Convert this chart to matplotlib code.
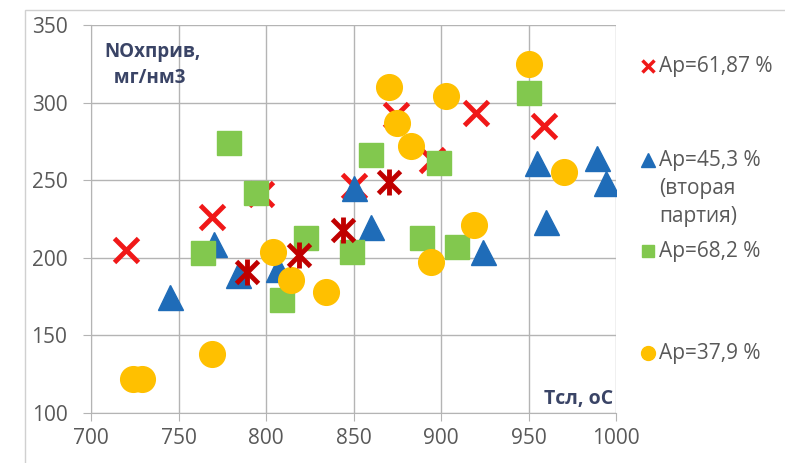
"""
NOx vs bed temperature scatter for four Ap values.
"""

import matplotlib
matplotlib.use('Agg')
from matplotlib import pyplot as plt
from matplotlib.lines import Line2D
from matplotlib.patches import Rectangle

plt.rcParams['font.family'] = ['Open Sans', 'DejaVu Sans']

# Ap=61,87 %
red_x = [720, 769, 797, 850, 874, 895, 920, 959]
red_y = [205, 226, 241, 246, 292, 263, 293, 285]
# same series, overlapped points (drawn as stars)
star_x = [789, 819, 844, 870]
star_y = [191, 202, 218, 249]
# Ap=45,3 % (second batch)
blue_x = [745, 770, 784, 807, 850, 860, 924, 955, 960, 989, 994]
blue_y = [175, 209, 189, 193, 245, 220, 204, 261, 223, 264, 248]
# Ap=68,2 %
green_x = [764, 779, 794, 809, 823, 849, 860, 889, 899, 909, 950]
green_y = [203, 274, 242, 173, 213, 204, 266, 213, 261, 207, 306]
# Ap=37,9 %
yellow_x = [724, 729, 769, 804, 814, 834, 870, 875, 883, 894, 903, 919, 950, 970]
yellow_y = [122, 122, 138, 204, 186, 178, 310, 287, 272, 197, 304, 221, 325, 255]

legend_labels = ['Ар=61,87 %', 'Ар=45,3 %\n(вторая\nпартия)', 'Ар=68,2 %', 'Ар=37,9 %']

RED = '#f01818'
DARKRED = '#c00000'
BLUE = '#1f6cb8'
GREEN = '#82c84e'
YELLOW = '#ffc000'
GRID = '#b4b4b4'
TXT = '#595959'
TITLE = '#3a4466'

fig = plt.figure(figsize=(7.85, 4.63), dpi=100)
fig.add_artist(Rectangle((25 / 785, -0.5), 3, 1 - 10 / 463 + 0.5,
                         transform=fig.transFigure, fill=False,
                         edgecolor='#d0d0d0', linewidth=1))
ax = fig.add_axes([91 / 785, 1 - 413 / 463, (616 - 91) / 785, (413 - 25) / 463])

ax.plot(red_x, red_y, linestyle='none', marker='x', ms=17, mew=3.5, color=RED, zorder=2)
ax.plot(blue_x, blue_y, linestyle='none', marker='^', ms=18, color=BLUE, zorder=3)
ax.plot(green_x, green_y, linestyle='none', marker='s', ms=17, color=GREEN, zorder=4)
ax.plot(yellow_x, yellow_y, linestyle='none', marker='o', ms=18.5, color=YELLOW, zorder=5)
ax.plot(star_x, star_y, linestyle='none', marker='x', ms=16, mew=3.5, color=DARKRED, zorder=6)
ax.plot(star_x, star_y, linestyle='none', marker='|', ms=19, mew=3.5, color=DARKRED, zorder=6)

ax.set_xlim(700, 1000)
ax.set_ylim(100, 350)
ax.set_xticks(range(700, 1001, 50))
ax.set_yticks(range(100, 351, 50))
ax.grid(True, color=GRID, linewidth=1)
ax.set_axisbelow(True)
for s in ax.spines.values():
    s.set_visible(False)
ax.spines['left'].set_visible(True)
ax.spines['bottom'].set_visible(True)
ax.spines['left'].set_color(GRID)
ax.spines['bottom'].set_color(GRID)
ax.tick_params(axis='both', direction='out', length=6, color=GRID, labelsize=15,
               labelcolor=TXT)
ax.tick_params(axis='y', pad=11)
ax.tick_params(axis='x', pad=5)

ax.text(0.025, 0.955, 'NOхприв,\n  мг/нм3', transform=ax.transAxes, fontsize=13.5,
        fontweight='bold', color=TITLE, va='top', ha='left', linespacing=1.4)
ax.text(0.995, 0.01, 'Tсл, оС', transform=ax.transAxes, fontsize=14,
        fontweight='bold', color=TITLE, va='bottom', ha='right')

# legend drawn by hand, entries sit at uneven heights
leg_y = [66, 160, 251, 353]
leg_style = [dict(marker='x', ms=9, mew=2.5, color=RED),
             dict(marker='^', ms=10, color=BLUE),
             dict(marker='s', ms=9, color=GREEN),
             dict(marker='o', ms=10, color=YELLOW)]
for y, lab, st in zip(leg_y, legend_labels, leg_style):
    fy = 1 - y / 463
    fig.add_artist(Line2D([648 / 785], [fy], linestyle='none', transform=fig.transFigure, **st))
    fig.text(659 / 785, fy + 10 / 463, lab, fontsize=15, color=TXT, va='top', ha='left',
             linespacing=1.45, transform=fig.transFigure)

fig.savefig('out.png', dpi=100)
